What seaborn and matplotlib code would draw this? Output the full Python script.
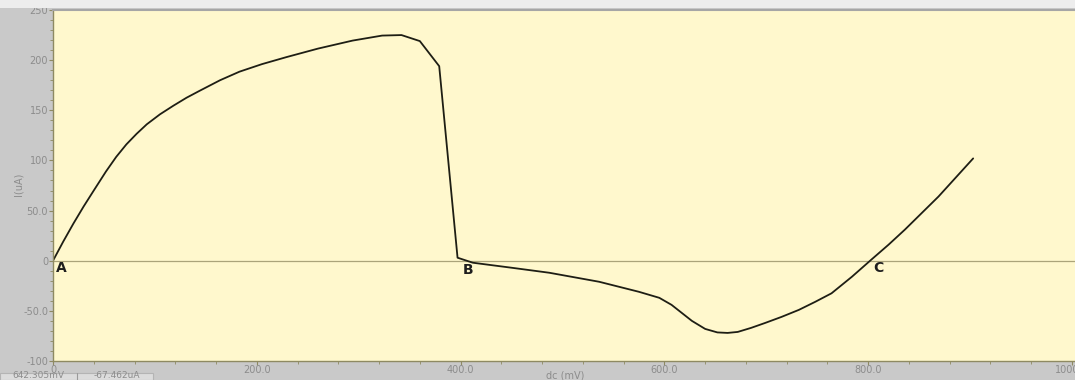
import matplotlib
matplotlib.use("Agg")
import matplotlib.pyplot as plt
from matplotlib.patches import Rectangle
from matplotlib.ticker import MultipleLocator, FixedLocator, FixedFormatter
import numpy as np
import pandas as pd
import seaborn as sns

# I-V sweep: bias voltage (mV) and measured current (uA)
voltage_mv = [0, 10, 20, 30, 40, 52, 62, 72, 82, 92, 105, 118, 131, 144, 164,
              183, 205, 229, 260, 294, 323, 342, 360, 379, 397, 412, 450, 487,
              536, 575, 595, 607, 617, 627, 640, 652, 662, 672, 685, 699, 715,
              732, 748, 764, 784, 803, 820, 836, 852, 869, 886, 903]
current_ua = [0, 19, 37, 54, 70, 89, 103.5, 116, 126.5, 136, 146, 154.5, 162.5,
              169.5, 180, 188.5, 196, 203, 211.5, 219.5, 224.5, 225, 219, 194,
              3, -2, -7, -12, -21, -31, -37, -44, -52, -60, -68, -71.5, -72,
              -71, -67, -62, -56, -49, -41, -32.5, -16, 1, 16, 31, 47, 64, 83,
              102]

x_ticks = [0, 200, 400, 600, 800, 1000]
x_tick_labels = ["0", "200.0", "400.0", "600.0", "800.0", "1000.0"]
y_ticks = [-100, -50, 0, 50, 100, 150, 200, 250]
y_tick_labels = ["-100", "-50.0", "0", "50.0", "100", "150", "200", "250"]

point_labels = ["A", "B", "C"]
point_x = [8, 407, 810]
point_y = [-7, -9, -7]

cursor_readout = ["642.305mV", "-67.462uA"]

sns.set_theme(style="ticks")
plt.rcParams["font.family"] = ["DejaVu Sans"]

df = pd.DataFrame({"dc (mV)": voltage_mv, "I(uA)": current_ua})

W, H = 1075, 380
fig = plt.figure(figsize=(W / 100, H / 100), dpi=100, facecolor="#C9C9C9")

# light strip along the top of the window
fig.patches.append(Rectangle((0, (H - 8) / H), 1, 8 / H, transform=fig.transFigure,
                             facecolor="#EDEDED", edgecolor="none", zorder=0))

left_px, right_px, top_px, bottom_px = 53, 1075, 10, 361
ax = fig.add_axes([left_px / W, (H - bottom_px) / H,
                   (right_px - left_px) / W, (bottom_px - top_px) / H])
ax.set_facecolor("#FFF8CD")

sns.lineplot(data=df, x="dc (mV)", y="I(uA)", ax=ax, sort=False, estimator=None,
             color="#1E1E14", linewidth=1.3)

ax.axhline(0, color="#ABA47A", linewidth=0.9, zorder=1)

ax.set_xlim(0, 1000 * (right_px - left_px) / (1072 - left_px))
ax.set_ylim(-100, 250)

ax.xaxis.set_major_locator(FixedLocator(x_ticks))
ax.xaxis.set_major_formatter(FixedFormatter(x_tick_labels))
ax.xaxis.set_minor_locator(MultipleLocator(40))
ax.yaxis.set_major_locator(FixedLocator(y_ticks))
ax.yaxis.set_major_formatter(FixedFormatter(y_tick_labels))
ax.yaxis.set_minor_locator(MultipleLocator(10))

ax.tick_params(axis="both", which="major", direction="out", length=3, width=0.8,
               color="#8E8A62", labelsize=7, labelcolor="#8C8C8C", pad=0.5)
ax.tick_params(axis="x", which="major", pad=0)
ax.tick_params(axis="both", which="minor", direction="out", length=2, width=0.6,
               color="#8E8A62")

for side in ["left", "bottom"]:
    ax.spines[side].set_color("#8E8A62")
    ax.spines[side].set_linewidth(1.0)
ax.spines["top"].set_color("#A6A6A6")
ax.spines["top"].set_linewidth(1.5)
ax.spines["right"].set_visible(False)

ax.set_xlabel("")
ax.set_ylabel("")
fig.text(565 / W, 1 - 376 / H, "dc (mV)", ha="center", va="center",
         fontsize=7, color="#8C8C8C")
fig.text(18 / W, 1 - 184 / H, "I(uA)", ha="center", va="center",
         rotation=90, fontsize=7, color="#8C8C8C")

for lab, px, py in zip(point_labels, point_x, point_y):
    ax.text(px, py, lab, ha="center", va="center", fontsize=10,
            fontweight="bold", color="#1E1E1E")

# cursor readout box at the bottom-left corner
box_h = 7
fig.patches.append(Rectangle((0, 0), 153 / W, box_h / H, transform=fig.transFigure,
                             facecolor="#DCDCDC", edgecolor="#B4B4B4",
                             linewidth=0.8, zorder=2))
fig.lines.append(plt.Line2D([77 / W, 77 / W], [0, box_h / H], transform=fig.transFigure,
                            color="#9A9A9A", linewidth=0.8, zorder=3))
fig.text(38 / W, 0.5 / H, cursor_readout[0], ha="center", va="bottom",
         fontsize=6.5, color="#8C8C8C", zorder=4)
fig.text(117 / W, 0.5 / H, cursor_readout[1], ha="center", va="bottom",
         fontsize=6.5, color="#8C8C8C", zorder=4)

fig.savefig("out.png", dpi=100, facecolor=fig.get_facecolor())
